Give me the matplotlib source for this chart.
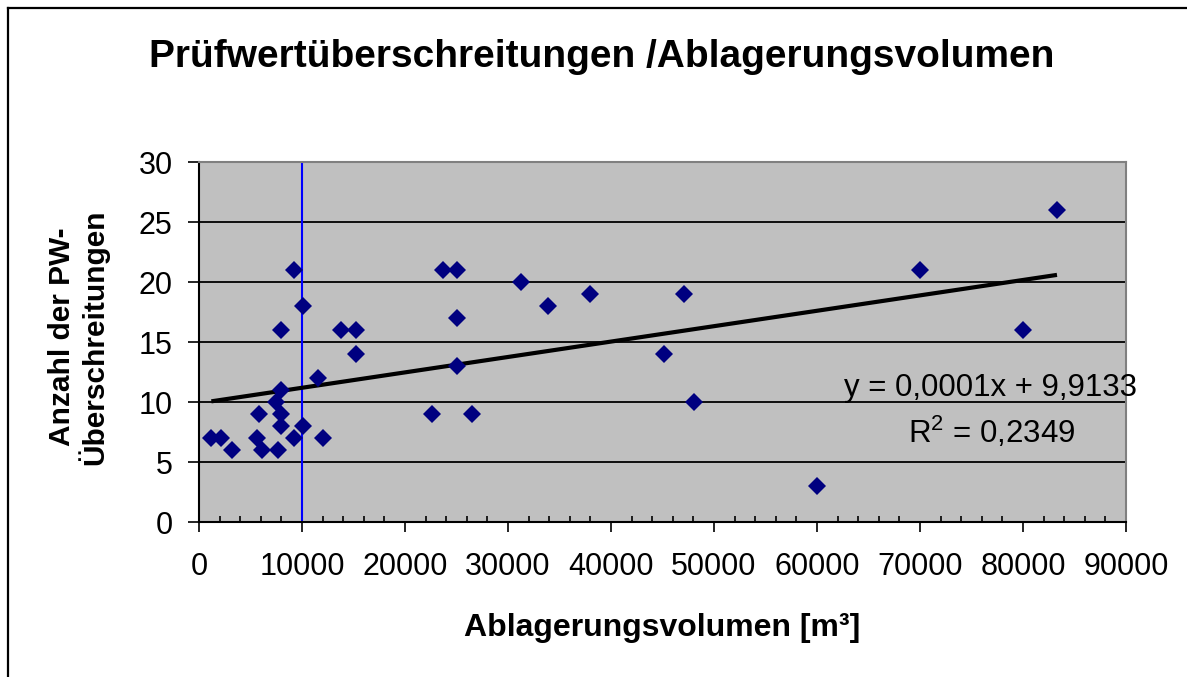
import numpy as np
import matplotlib
matplotlib.use("Agg")
import matplotlib.pyplot as plt
from matplotlib.lines import Line2D
from matplotlib.ticker import MultipleLocator

plt.rcParams['font.family'] = ['Liberation Sans', 'DejaVu Sans']
plt.rcParams['mathtext.fontset'] = 'custom'
plt.rcParams['mathtext.rm'] = 'Liberation Sans'
plt.rcParams['mathtext.it'] = 'Liberation Sans'
plt.rcParams['mathtext.default'] = 'regular'

# Data
volume = [1200, 2100, 3200, 5600, 5800, 6100, 7500, 7700, 8000, 8000, 8000, 8000,
          9200, 9200, 10100, 10100, 11600, 12000, 13800, 15200, 15200,
          22600, 23700, 25000, 25000, 25000, 26500, 31300, 33900, 38000,
          45100, 47100, 48100, 60000, 70000, 80000, 83300]
exceed = [7, 7, 6, 7, 9, 6, 10, 6, 16, 11, 9, 8,
          21, 7, 18, 8, 12, 7, 16, 16, 14,
          9, 21, 21, 17, 13, 9, 20, 18, 19,
          14, 19, 10, 3, 21, 16, 26]
threshold_x = 10000
eq_text = "y = 0,0001x + 9,9133"
r2_text = "R$^2$ = 0,2349"
title = "Prüfwertüberschreitungen /Ablagerungsvolumen"
xlabel = "Ablagerungsvolumen [m³]"
ylabel = "Anzahl der PW-\nÜberschreitungen"

fig = plt.figure(figsize=(11.87, 6.77), dpi=100)
fig.patch.set_facecolor('white')
ax = fig.add_axes([199/1187, 1-522/677, (1126-199)/1187, (522-162)/677])
ax.set_facecolor('#C0C0C0')

ax.set_xlim(0, 90000)
ax.set_ylim(0, 30)
ax.xaxis.set_major_locator(MultipleLocator(10000))
ax.xaxis.set_minor_locator(MultipleLocator(2000))
ax.yaxis.set_major_locator(MultipleLocator(5))

for yv in range(5, 30, 5):
    ax.axhline(yv, color='black', lw=1.3, zorder=1)

ax.axvline(threshold_x, color='#0000FF', lw=1.5, zorder=2)

# linear trend line
x = np.array(volume, dtype=float)
y = np.array(exceed, dtype=float)
m, b = np.polyfit(x, y, 1)
xs = np.array([x.min(), x.max()])
ax.plot(xs, m*xs + b, color='black', lw=3, zorder=3, solid_capstyle='butt')

ax.plot(volume, exceed, linestyle='none', marker='D', ms=9.5, color='#000080',
        markeredgewidth=0, zorder=4)

ax.text(76800, 11.2, eq_text, ha='center', va='center', fontsize=22.5, clip_on=False, zorder=5)
ax.text(77000, 7.5, r2_text, ha='center', va='center', fontsize=22.5, clip_on=False, zorder=5)

for s in ['top', 'right']:
    ax.spines[s].set_color('#808080')
    ax.spines[s].set_linewidth(1.5)
for s in ['left', 'bottom']:
    ax.spines[s].set_color('black')
    ax.spines[s].set_linewidth(1.5)

ax.tick_params(axis='x', which='major', direction='out', length=7.5, width=1.2,
               labelsize=22, pad=14)
ax.tick_params(axis='x', which='minor', direction='in', length=4, width=1.2)
ax.tick_params(axis='y', which='major', direction='out', length=8, width=1.2,
               labelsize=22, pad=11)

fig.text(0.507, 1-57/677, title, ha='center', va='center', fontsize=28, fontweight='bold')
fig.text(662/1187, 1-628/677, xlabel, ha='center', va='center', fontsize=23, fontweight='bold')
fig.text(79/1187, 1-337/677, ylabel, ha='center', va='center', fontsize=21.5,
         fontweight='bold', rotation=90, multialignment='center', linespacing=1.05)

# outer chart frame
fig.add_artist(Line2D([8/1187, 8/1187], [0, 1-8/677], color='black', lw=1.6, transform=fig.transFigure))
fig.add_artist(Line2D([8/1187, 1], [1-8/677, 1-8/677], color='black', lw=1.6, transform=fig.transFigure))

fig.savefig('out.png', dpi=100, facecolor='white')
